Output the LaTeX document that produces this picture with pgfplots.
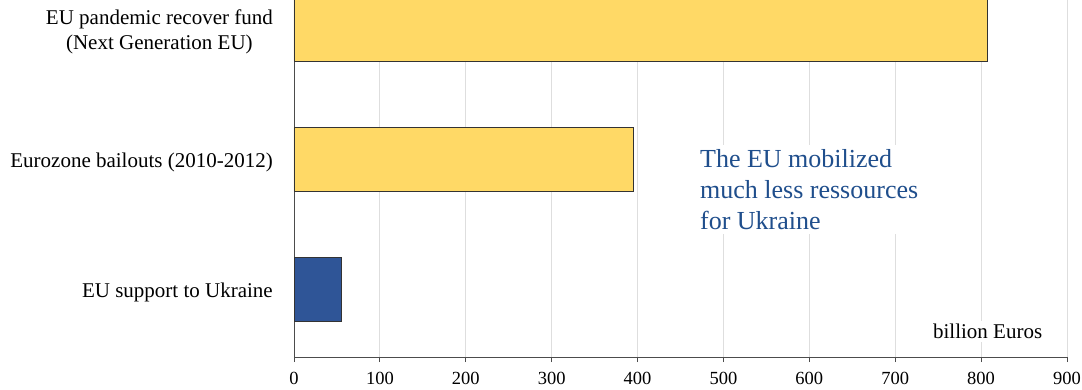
\documentclass[border=0pt]{standalone}
\usepackage{pgfplots}
\pgfplotsset{compat=1.18}
\usepackage{fontspec}
\setmainfont{Liberation Serif}
\definecolor{barY}{HTML}{FFD966}
\definecolor{barB}{HTML}{2F5597}
\definecolor{txtB}{HTML}{1F4E8C}
\begin{document}
\begin{tikzpicture}
\begin{axis}[name=ax, scale only axis, width=773bp, height=357bp,
  xmin=0, xmax=900, ymin=-0.515, ymax=2.223,
  xtick={0,100,...,900},
  ytick={0,1,2},
  yticklabels={{EU support to Ukraine},{Eurozone bailouts (2010-2012)},{EU pandemic recover fund\\(Next Generation EU)}},
  axis x line=bottom, axis y line=left,
  axis line style={draw=black!70, line width=0.8bp, -},
  xmajorgrids, grid style={draw=black!13, line width=0.9bp},
  x tick style={draw=black!70, line width=0.8bp}, y tick style={draw=none},
  major tick length=5bp, tick align=outside,
  xticklabel style={font=\fontsize{18.5bp}{20bp}\selectfont, inner sep=0pt, yshift=-10bp},
  yticklabel style={font=\fontsize{21bp}{25bp}\selectfont, align=center, inner sep=0pt, xshift=-16bp, yshift=-3bp},
  /pgf/number format/assume math mode=true,
  xbar, bar width=64bp, bar shift=0pt,
]
\addplot[xbar, bar shift=0pt, fill=barY, draw=black!80, line width=0.9bp] coordinates {(395,1) (807,2)};
\addplot[xbar, bar shift=0pt, fill=barB, draw=black!80, line width=0.9bp] coordinates {(55,0)};
\node[fill=white, inner sep=3bp, anchor=center, font=\fontsize{21bp}{25bp}\selectfont] at (axis cs:807.6,-0.32) {billion Euros};
\node[fill=white, inner sep=4bp, anchor=west, align=left, text=txtB, font=\fontsize{26bp}{31bp}\selectfont] at (axis cs:468,0.769) {The EU mobilized\\much less ressources\\for Ukraine};
\end{axis}
\pgfresetboundingbox
\path[use as bounding box] ([xshift=-294bp,yshift=-33bp]ax.south west) rectangle ([xshift=15bp]ax.north east);
\end{tikzpicture}
\end{document}
